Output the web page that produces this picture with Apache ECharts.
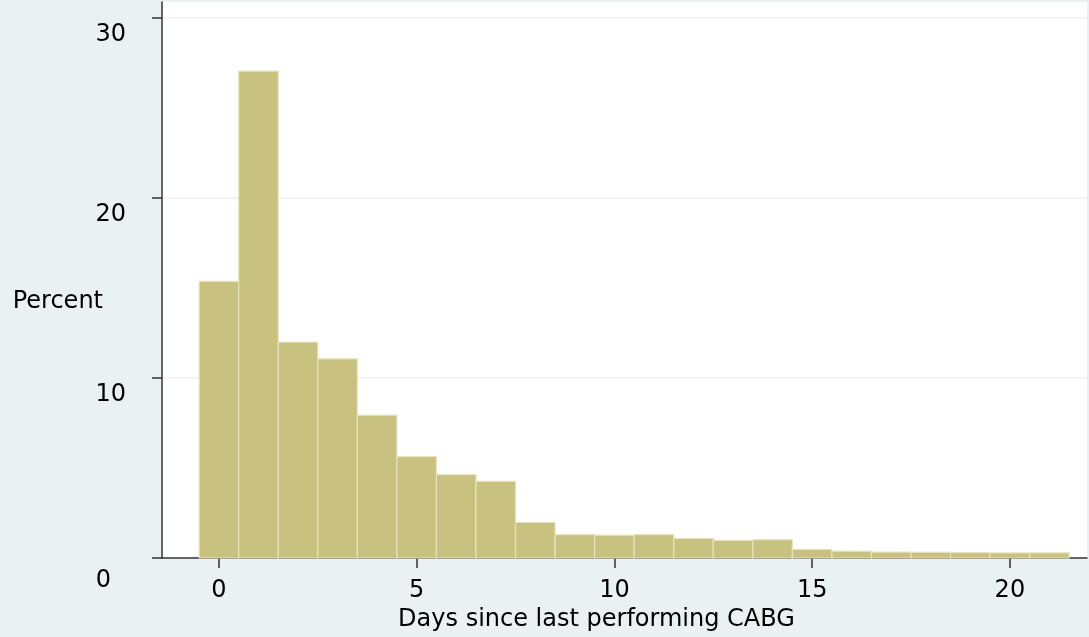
<!DOCTYPE html>
<html>
<head>
<meta charset="utf-8">
<script src="https://cdn.jsdelivr.net/npm/echarts@6/dist/echarts.min.js"></script>
<style>
html,body{margin:0;padding:0;background:#e9f1f3;}
#chart{width:1089px;height:637px;}
</style>
</head>
<body>
<div id="chart"></div>
<script>
// Bin centres (days) and percent per bin
var days = [0,1,2,3,4,5,6,7,8,9,10,11,12,13,14,15,16,17,18,19,20,21];
var percent = [15.37,27.06,12.0,11.07,7.94,5.63,4.63,4.26,1.98,1.30,1.27,1.30,1.09,0.98,1.02,0.48,0.38,0.33,0.32,0.30,0.28,0.29];
var xTicks = [0,5,10,15,20];
var yTicks = [0,10,20,30];
var xTitle = 'Days since last performing CABG';
var yTitle = 'Percent';

var data = days.map(function(d,i){ return [d, percent[i]]; });
var FONT = 'DejaVu Sans';
var FS = 24;
var chart = echarts.init(document.getElementById('chart'));
chart.setOption({
  backgroundColor: '#e9f1f3',
  animation: false,
  grid: {left:162, right:2, top:2, bottom:79, show:true, backgroundColor:'#ffffff', borderWidth:0},
  xAxis: {
    type:'value', min:-1.44, max:21.95,
    name: xTitle, nameLocation:'middle', nameGap:50, nameMoveOverlap:false,
    nameTextStyle:{fontFamily:FONT, fontSize:FS, color:'#000', padding:[0,56,0,0]},
    axisLine:{show:true, onZero:false, lineStyle:{color:'#333', width:1.5}},
    axisTick:{show:true, length:10, customValues:xTicks, lineStyle:{color:'#333', width:1.5}},
    axisLabel:{customValues:xTicks, margin:21, fontFamily:FONT, fontSize:FS, color:'#000'},
    splitLine:{show:false}
  },
  yAxis: {
    type:'value', min:0, max:30.9,
    name: '{p|' + yTitle + '}', nameLocation:'middle', nameRotate:0, nameGap:59, nameMoveOverlap:false,
    nameTextStyle:{fontFamily:FONT, fontSize:FS, color:'#000', align:'right', verticalAlign:'middle',
      rich:{p:{fontFamily:FONT, fontSize:FS, color:'#000', padding:[44,0,0,0]}}},
    axisLine:{show:true, onZero:false, lineStyle:{color:'#333', width:1.5}},
    axisTick:{show:true, length:10, customValues:yTicks, lineStyle:{color:'#333', width:1.5}},
    axisLabel:{customValues:yTicks, margin:36, fontFamily:FONT, fontSize:FS, color:'#000',
      formatter:function(v){ return v===0 ? '{z|0}' : '{n|'+v+'}'; },
      rich:{
        n:{fontFamily:FONT, fontSize:FS, color:'#000', padding:[33,0,0,0]},
        z:{fontFamily:FONT, fontSize:FS, color:'#000', padding:[45,15,0,0]}
      }},
    splitLine:{show:true, lineStyle:{color:'#eaf1f2', width:1.5}}
  },
  series: [{
    type:'custom',
    data:data,
    encode:{x:0, y:1},
    renderItem:function(params, api){
      var x = api.value(0), y = api.value(1);
      var p0 = api.coord([x-0.5, y]);
      var p1 = api.coord([x+0.5, 0]);
      return {
        type:'rect',
        shape:{x:p0[0], y:p0[1], width:p1[0]-p0[0], height:p1[1]-p0[1]},
        style:{fill:'#c9c17f', stroke:'#e7e3bf', lineWidth:1.2}
      };
    }
  }]
});
</script>
</body>
</html>
